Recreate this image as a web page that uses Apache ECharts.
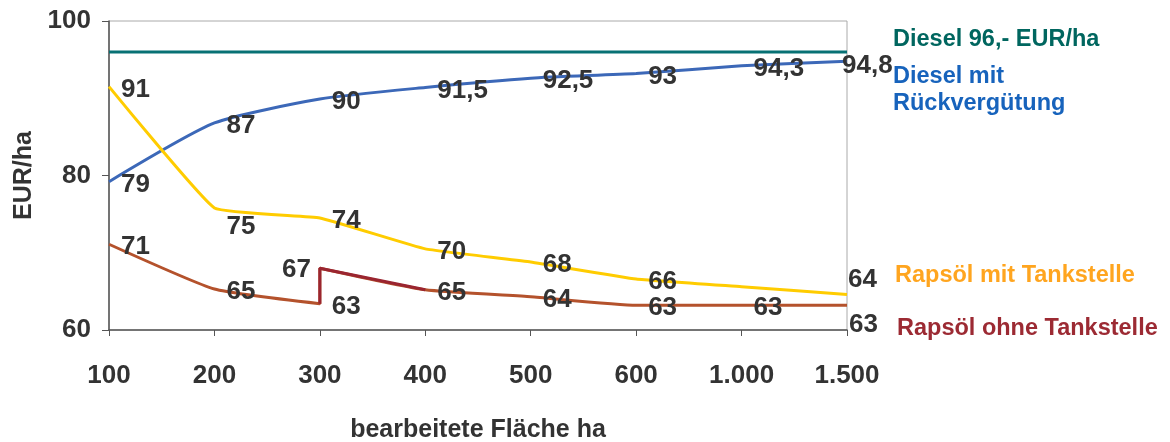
<!DOCTYPE html>
<html>
<head>
<meta charset="utf-8">
<script src="https://cdn.jsdelivr.net/npm/echarts@6/dist/echarts.min.js"></script>
<style>html,body{margin:0;padding:0;background:#fff}#c{width:1170px;height:442px}</style>
</head>
<body>
<div id="c"></div>
<script>
// ---- data ----
const categories = ['100','200','300','400','500','600','1.000','1.500'];
const yTicks = [60, 80, 100];
const dieselFlat = [96, 96, 96, 96, 96, 96, 96, 96];
const dieselRueck = [79.2, 86.8, 89.9, 91.4, 92.6, 93.2, 94.2, 94.8];
const dieselRueckLabels = ['79','87','90','91,5','92,5','93','94,3','94,8'];
const rapsMit = [91.5, 75.8, 74.5, 70.5, 68.8, 66.6, 65.6, 64.6];
const rapsMitLabels = ['91','75','74','70','68','66','','64'];
const rapsOhneX = [0, 1, 2, 2, 3, 4, 5, 6, 7];
const rapsOhne = [71.1, 65.3, 63.4, 68.0, 65.2, 64.3, 63.2, 63.2, 63.2];
const rapsOhneLabels = ['71','65','63','67','65','64','63','63','63'];
const legendTexts = {
  diesel: 'Diesel 96,- EUR/ha',
  rueck1: 'Diesel mit',
  rueck2: 'Rückvergütung',
  mit: 'Rapsöl mit Tankstelle',
  ohne: 'Rapsöl ohne Tankstelle'
};

// ---- styling ----
const FONT = '"Liberation Sans", Arial, sans-serif';
const labelBase = {
  show: true, position: 'right', distance: 12, offset: [0, 3],
  fontSize: 26, fontWeight: 'bold', color: '#333', fontFamily: FONT
};
const labelOverrides = {
  rueck: { 7: { offset: [-17, 5] } },
  mit: { 1: { offset: [0, 19] }, 7: { offset: [-11, -15] } },
  ohne: { 3: { position: 'left', distance: 9, offset: [0, 2] }, 8: { offset: [-10, 20] } }
};
function build(xs, ys, labels, key) {
  return ys.map((v, i) => {
    const t = labels[i];
    const o = (labelOverrides[key] || {})[i] || {};
    return {
      value: [xs[i], v],
      label: Object.assign({}, labelBase, o, { show: t !== '', formatter: () => t })
    };
  });
}
const idx = categories.map((c, i) => i);
const legendStyle = (text, fill) => ({ text, fill, fontSize: 23.5, fontWeight: 'bold', fontFamily: FONT, verticalAlign: 'middle' });

const chart = echarts.init(document.getElementById('c'));
chart.setOption({
  animation: false,
  grid: { left: 109, right: 323, top: 21, bottom: 112, outerBoundsMode: 'none', containLabel: false,
          show: true, borderColor: '#aaa', borderWidth: 1 },
  xAxis: {
    type: 'value', min: 0, max: categories.length - 1, interval: 1,
    axisLine: { lineStyle: { color: '#555', width: 1.5 } },
    axisTick: { show: true, length: 6, lineStyle: { color: '#555' } },
    splitLine: { show: false },
    axisLabel: { formatter: v => categories[v] || '', margin: 33, fontSize: 26, fontWeight: 'bold', color: '#333', fontFamily: FONT },
    name: 'bearbeitete Fläche ha', nameLocation: 'middle', nameGap: 88,
    nameTextStyle: { fontSize: 25, fontWeight: 'bold', color: '#333', fontFamily: FONT }
  },
  yAxis: {
    type: 'value', min: yTicks[0], max: yTicks[yTicks.length - 1], interval: yTicks[1] - yTicks[0],
    axisLine: { show: true, lineStyle: { color: '#555', width: 1.5 } },
    axisTick: { show: true, length: 7, lineStyle: { color: '#555' } },
    splitLine: { show: false },
    axisLabel: { margin: 18, fontSize: 26, fontWeight: 'bold', color: '#333', fontFamily: FONT },
    name: 'EUR/ha', nameLocation: 'middle', nameGap: 72, nameRotate: 90,
    nameTextStyle: { fontSize: 25, fontWeight: 'bold', color: '#333', fontFamily: FONT }
  },
  series: [
    {
      type: 'line', data: idx.map(i => [i, dieselFlat[i]]), symbol: 'none',
      lineStyle: { color: '#077174', width: 3 }, z: 2
    },
    {
      type: 'line', data: build(idx, dieselRueck, dieselRueckLabels, 'rueck'),
      symbol: 'circle', symbolSize: 0.01, smooth: 0.2,
      itemStyle: { color: '#3c68b8' }, lineStyle: { color: '#3c68b8', width: 3 }, z: 3
    },
    {
      type: 'line', data: build(idx, rapsMit, rapsMitLabels, 'mit'),
      symbol: 'circle', symbolSize: 0.01, smooth: 0.1,
      itemStyle: { color: '#ffcc00' }, lineStyle: { color: '#ffcc00', width: 3 }, z: 3
    },
    {
      type: 'line', data: build(rapsOhneX, rapsOhne, rapsOhneLabels, 'ohne'),
      symbol: 'circle', symbolSize: 0.01, smooth: 0.15,
      itemStyle: { color: '#b4522c' }, lineStyle: { color: '#b4522c', width: 3 }, z: 3
    },
    {
      type: 'line', data: [2, 3, 4].map(i => [rapsOhneX[i], rapsOhne[i]]), symbol: 'none',
      lineStyle: { color: '#9a2530', width: 3 }, z: 4, silent: true
    }
  ],
  graphic: [
    { type: 'text', x: 893, y: 40, style: legendStyle(legendTexts.diesel, '#00665f') },
    { type: 'text', x: 893, y: 77, style: legendStyle(legendTexts.rueck1, '#1763bc') },
    { type: 'text', x: 893, y: 104, style: legendStyle(legendTexts.rueck2, '#1763bc') },
    { type: 'text', x: 895, y: 276, style: legendStyle(legendTexts.mit, '#ffa51f') },
    { type: 'text', x: 897, y: 329, style: legendStyle(legendTexts.ohne, '#9c2a33') }
  ]
});
</script>
</body>
</html>
